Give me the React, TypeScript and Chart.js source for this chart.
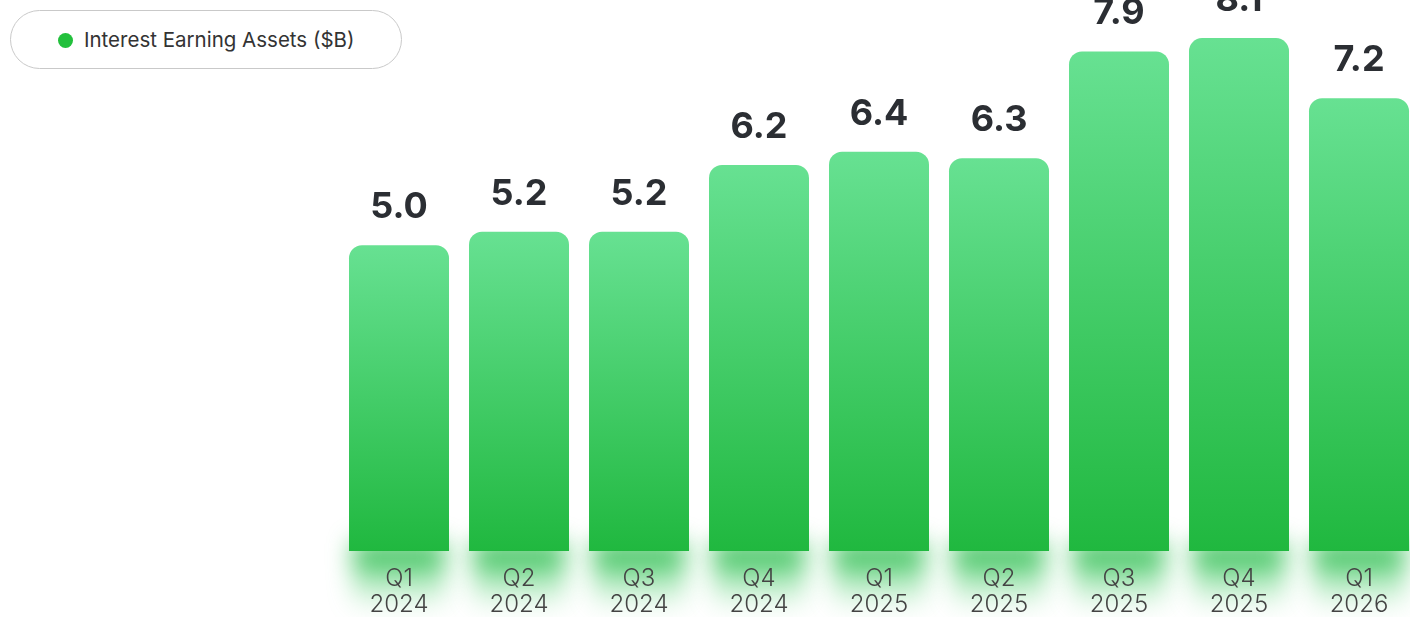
import React, { useEffect, useRef } from "react";
import { Chart, registerables } from "chart.js";

Chart.register(...registerables);

const quarters: string[] = ["Q1", "Q2", "Q3", "Q4", "Q1", "Q2", "Q3", "Q4", "Q1"];
const years: string[] = ["2024", "2024", "2024", "2024", "2025", "2025", "2025", "2025", "2026"];
const assets: number[] = [5.0, 5.2, 5.2, 6.2, 6.4, 6.3, 7.9, 8.1, 7.2];
const seriesName = "Interest Earning Assets ($B)";

const TOP_GREEN = "#67e192";
const BOTTOM_GREEN = "#20b83f";

const glowPlugin = {
  id: "glow",
  beforeDraw(chart: any) {
    const meta = chart.getDatasetMeta(0);
    const ctx = chart.ctx;
    const base = chart.chartArea.bottom;
    ctx.save();
    ctx.filter = "blur(12px)";
    meta.data.forEach((bar: any) => {
      const w = bar.width;
      const g = ctx.createLinearGradient(0, base, 0, base + 60);
      g.addColorStop(0, "rgba(35,185,70,0.95)");
      g.addColorStop(0.45, "rgba(60,200,95,0.45)");
      g.addColorStop(1, "rgba(80,210,110,0)");
      ctx.fillStyle = g;
      ctx.fillRect(bar.x - w / 2 + 4, base - 8, w - 8, 64);
    });
    ctx.restore();
  },
};

const valueLabelPlugin = {
  id: "valueLabels",
  afterDatasetsDraw(chart: any) {
    const meta = chart.getDatasetMeta(0);
    const ctx = chart.ctx;
    ctx.save();
    ctx.font = "650 36px Inter";
    ctx.fillStyle = "#2b2e33";
    ctx.textAlign = "center";
    ctx.textBaseline = "alphabetic";
    meta.data.forEach((bar: any, i: number) => {
      ctx.fillText(assets[i].toFixed(1), bar.x, bar.y - 27);
    });
    ctx.restore();
  },
};

export default function App() {
  const ref = useRef<HTMLCanvasElement | null>(null);

  useEffect(() => {
    if (!ref.current) return;
    const chart = new Chart(ref.current, {
      type: "bar",
      data: {
        labels: quarters.map((q, i) => [q, years[i]]),
        datasets: [
          {
            label: seriesName,
            data: assets,
            backgroundColor: (c: any) => {
              const ch = c.chart;
              const area = ch.chartArea;
              if (!area || c.raw == null) return TOP_GREEN;
              const top = ch.scales.y.getPixelForValue(c.raw);
              const g = ch.ctx.createLinearGradient(0, top, 0, area.bottom);
              g.addColorStop(0, TOP_GREEN);
              g.addColorStop(1, BOTTOM_GREEN);
              return g;
            },
            borderWidth: 0,
            borderRadius: 13,
            borderSkipped: "start",
            categoryPercentage: 1,
            barPercentage: 100 / 120,
          },
        ],
      },
      options: {
        animation: false,
        responsive: false,
        maintainAspectRatio: false,
        layout: { padding: { left: 339, right: 11, top: 18, bottom: 0 } },
        plugins: { legend: { display: false }, tooltip: { enabled: false } },
        scales: {
          y: { display: false, min: 0.42, max: 9.0 },
          x: {
            grid: { display: false },
            border: { display: false },
            ticks: {
              color: "#444444",
              font: { family: "Inter", size: 24, weight: 300, lineHeight: 1.08 },
              padding: 7,
              maxRotation: 0,
              autoSkip: false,
            },
            afterFit: (s: any) => {
              s.height = 66;
            },
          },
        },
      },
      plugins: [glowPlugin, valueLabelPlugin],
    });
    return () => chart.destroy();
  }, []);

  return (
    <div
      style={{
        position: "fixed",
        left: 0,
        top: 0,
        width: 1410,
        height: 617,
        overflow: "hidden",
        background: "#ffffff",
      }}
    >
      <canvas
        ref={ref}
        width={1430}
        height={657}
        style={{ position: "absolute", left: 0, top: -40, width: 1430, height: 657 }}
      />
      <div
        style={{
          position: "absolute",
          left: 10,
          top: 10,
          width: 392,
          height: 59,
          boxSizing: "border-box",
          border: "1px solid #c9c9c9",
          borderRadius: 30,
          background: "#ffffff",
          fontFamily: "Inter",
          fontSize: 20.5,
          color: "#333333",
        }}
      >
        <span
          style={{
            position: "absolute",
            left: 47,
            top: 22,
            width: 15,
            height: 15,
            borderRadius: "50%",
            background: "#22c03c",
          }}
        />
        <span style={{ position: "absolute", left: 73, top: 16, lineHeight: "26px", whiteSpace: "nowrap" }}>
          {seriesName}
        </span>
      </div>
    </div>
  );
}
